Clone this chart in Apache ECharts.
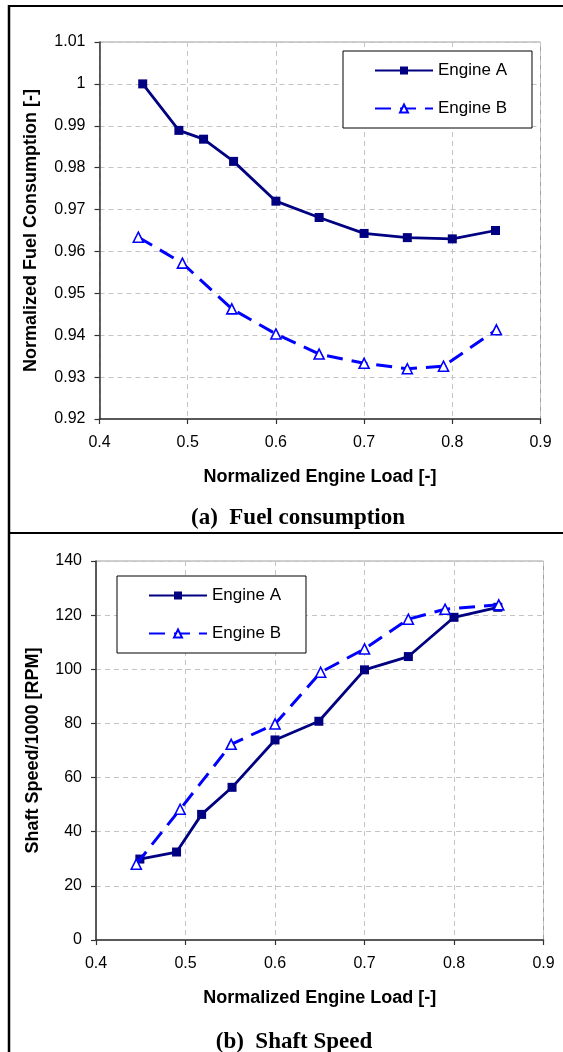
<!DOCTYPE html>
<html>
<head>
<meta charset="utf-8">
<script src="https://cdn.jsdelivr.net/npm/echarts@6/dist/echarts.min.js"></script>
<style>
  html, body { margin: 0; padding: 0; background: #fff; }
  #chart { width: 563px; height: 1052px; }
</style>
</head>
<body>
<div id="chart"></div>
<script>
// (a) fuel consumption
const fuelLoadA = [0.449, 0.490, 0.518, 0.552, 0.600, 0.649, 0.700, 0.749, 0.800, 0.849];
const fuelA     = [1.0000, 0.9889, 0.9868, 0.9815, 0.9720, 0.9681, 0.9643, 0.9633, 0.9630, 0.9650];
const fuelLoadB = [0.444, 0.494, 0.550, 0.600, 0.649, 0.700, 0.749, 0.790, 0.850];
const fuelB     = [0.9634, 0.9572, 0.9463, 0.9403, 0.9355, 0.9333, 0.9320, 0.9326, 0.9413];

// (b) shaft speed
const speedLoadA = [0.449, 0.490, 0.518, 0.552, 0.600, 0.649, 0.700, 0.749, 0.800, 0.849];
const speedA     = [29.9, 32.5, 46.4, 56.4, 73.9, 80.8, 99.8, 104.7, 119.2, 122.9];
const speedLoadB = [0.445, 0.494, 0.551, 0.600, 0.651, 0.700, 0.749, 0.790, 0.850];
const speedB     = [28.0, 48.3, 72.3, 79.8, 98.9, 107.5, 118.5, 122.2, 123.8];

const seriesNames = ['Engine A', 'Engine B'];
const captions = ['(a)  Fuel consumption', '(b)  Shaft Speed'];

const FONT = '"Liberation Sans", Arial, sans-serif';
const SERIF = '"Liberation Serif", "Times New Roman", serif';

function pairs(xs, ys) {
  return xs.map(function (x, i) { return [x, ys[i]]; });
}

function xAxisCfg(gridIndex) {
  return {
    gridIndex: gridIndex,
    type: 'value',
    min: 0.4, max: 0.9, interval: 0.1,
    name: 'Normalized Engine Load [-]',
    nameLocation: 'middle',
    nameGap: 49,
    nameTextStyle: { fontFamily: FONT, fontSize: 18, fontWeight: 'bold', color: '#000' },
    axisLine: { lineStyle: { color: '#333', width: 1.5 } },
    axisTick: { show: true, length: 5, lineStyle: { color: '#333', width: 1.2 } },
    axisLabel: {
      margin: 16, fontFamily: FONT, fontSize: 16, color: '#000',
      formatter: function (v) { return v.toFixed(1); }
    },
    splitLine: { show: true, lineStyle: { color: '#c4c4c4', type: [5, 4], width: 1 } }
  };
}

function yAxisCfg(gridIndex, o) {
  return {
    gridIndex: gridIndex,
    type: 'value',
    min: o.min, max: o.max, interval: o.interval,
    name: o.name,
    nameLocation: 'middle',
    nameGap: o.nameGap,
    nameTextStyle: { fontFamily: FONT, fontSize: 18, fontWeight: 'bold', color: '#000' },
    axisLine: { show: true, lineStyle: { color: '#333', width: 1.5 } },
    axisTick: { show: true, length: 5, lineStyle: { color: '#333', width: 1.2 } },
    axisLabel: {
      margin: 14, fontFamily: FONT, fontSize: 16, color: '#000',
      formatter: o.formatter
    },
    splitLine: { show: true, lineStyle: { color: '#c4c4c4', type: [5, 4], width: 1 } }
  };
}

function engineA(idx, data) {
  return {
    name: seriesNames[0], type: 'line',
    xAxisIndex: idx, yAxisIndex: idx,
    data: data,
    symbol: 'rect', symbolSize: 9,
    color: '#000080',
    lineStyle: { color: '#000080', width: 2.8 },
    itemStyle: { color: '#000080' },
    z: 3
  };
}

function engineB(idx, data) {
  return {
    name: seriesNames[1], type: 'line',
    xAxisIndex: idx, yAxisIndex: idx,
    data: data,
    symbol: 'triangle', symbolSize: 10,
    color: '#0000ff',
    lineStyle: { color: '#0000ff', width: 3, type: [16, 9] },
    itemStyle: { color: '#ffffff', borderColor: '#0000ff', borderWidth: 1.6 },
    z: 4
  };
}

function legendCfg(left, top) {
  return {
    data: seriesNames,
    orient: 'vertical',
    left: left, top: top,
    itemWidth: 58, itemHeight: 10,
    itemGap: 21,
    padding: [11, 25, 11, 31],
    backgroundColor: '#fff',
    borderColor: '#000', borderWidth: 1,
    textStyle: { fontFamily: FONT, fontSize: 17, color: '#000' },
    selectedMode: false
  };
}

const chart = echarts.init(document.getElementById('chart'), null, { renderer: 'canvas' });

chart.setOption({
  animation: false,
  backgroundColor: '#fff',
  title: [
    { text: captions[0], left: 293, top: 513, textAlign: 'center', textVerticalAlign: 'middle',
      textStyle: { fontFamily: SERIF, fontSize: 23, fontWeight: 'bold', color: '#000' } },
    { text: captions[1], left: 289, top: 1037, textAlign: 'center', textVerticalAlign: 'middle',
      textStyle: { fontFamily: SERIF, fontSize: 23, fontWeight: 'bold', color: '#000' } }
  ],
  grid: [
    { left: 99.5, top: 42, width: 441, height: 377, show: true, borderColor: '#a0a0a0', borderWidth: 1 },
    { left: 96, top: 561, width: 447.5, height: 379, show: true, borderColor: '#a0a0a0', borderWidth: 1 }
  ],
  xAxis: [xAxisCfg(0), xAxisCfg(1)],
  yAxis: [
    yAxisCfg(0, {
      min: 0.92, max: 1.01, interval: 0.01, nameGap: 59,
      name: 'Normalized Fuel Consumption [-]',
      formatter: function (v) { return String(parseFloat(v.toFixed(2))); }
    }),
    yAxisCfg(1, {
      min: 0, max: 140, interval: 20, nameGap: 54,
      name: 'Shaft Speed/1000 [RPM]',
      formatter: function (v) { return String(Math.round(v)); }
    })
  ],
  legend: [legendCfg(343, 51), legendCfg(117, 576)],
  series: [
    engineA(0, pairs(fuelLoadA, fuelA)),
    engineB(0, pairs(fuelLoadB, fuelB)),
    engineA(1, pairs(speedLoadA, speedA)),
    engineB(1, pairs(speedLoadB, speedB))
  ],
  graphic: [
    { type: 'line', shape: { x1: 9, y1: 5, x2: 9, y2: 1052 }, style: { stroke: '#000', lineWidth: 2.5 } },
    { type: 'line', shape: { x1: 8, y1: 6, x2: 563, y2: 6 }, style: { stroke: '#000', lineWidth: 2 } },
    { type: 'line', shape: { x1: 8, y1: 533, x2: 563, y2: 533 }, style: { stroke: '#000', lineWidth: 2 } }
  ]
});
</script>
</body>
</html>
